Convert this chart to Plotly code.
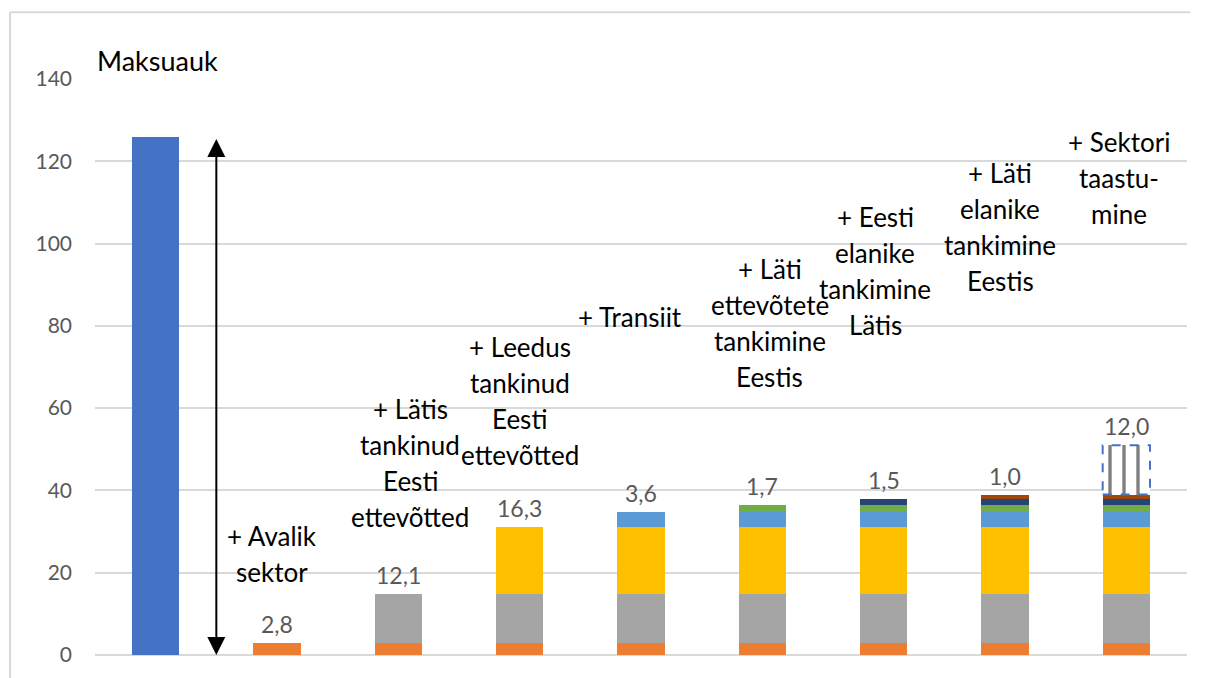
import plotly.graph_objects as go

# ---------------- data ----------------
categories = [
    "Maksuauk",
    "+ Avalik sektor",
    "+ Lätis tankinud Eesti ettevõtted",
    "+ Leedus tankinud Eesti ettevõtted",
    "+ Transiit",
    "+ Läti ettevõtete tankimine Eestis",
    "+ Eesti elanike tankimine Lätis",
    "+ Läti elanike tankimine Eestis",
    "+ Sektori taastumine",
]
category_lines = [
    [],
    ["+ Avalik", "sektor"],
    ["+ Lätis", "tankinud", "Eesti", "ettevõtted"],
    ["+ Leedus", "tankinud", "Eesti", "ettevõtted"],
    ["+ Transiit"],
    ["+ Läti", "ettevõtete", "tankimine", "Eestis"],
    ["+ Eesti", "elanike", "tankimine", "Lätis"],
    ["+ Läti", "elanike", "tankimine", "Eestis"],
    ["+ Sektori", "taastu-", "mine"],
]
tax_gap = 125.8
components = [2.8, 12.1, 16.3, 3.6, 1.7, 1.5, 1.0, 12.0]
component_colors = ["#ED7D31", "#A5A5A5", "#FFC000", "#5B9BD5",
                    "#70AD47", "#264478", "#9E480E", "#FFFFFF"]
y_ticks = [0, 20, 40, 60, 80, 100, 120, 140]
y_title = "Maksuauk"

# ---------------- layout constants ----------------
label_x = [None, 0.96, 2.10, 3.00, 3.91, 5.06, 5.93, 6.96, 7.94]
label_y = [None, 29.0, 59.8, 74.8, 82.1, 93.7, 106.5, 117.2, 124.7]
BAR_W = 0.39
FONT = "Lato"
LINE_PX = 36

xs = list(range(len(categories)))

fig = go.Figure()

# first bar: the tax gap
fig.add_trace(go.Bar(
    x=[xs[0]], y=[tax_gap], width=BAR_W,
    marker=dict(color="#4472C4", line=dict(width=0)),
    showlegend=False, hoverinfo="skip",
))

# stacked components: component i appears from column i+1 onwards
n = len(components)
for i, v in enumerate(components):
    cols = xs[i + 1:]
    vals = [v] * len(cols)
    marker = dict(color=component_colors[i], line=dict(width=0))
    if i == n - 1:
        marker = dict(color="#FFFFFF", line=dict(width=0),
                      pattern=dict(shape="|", fgcolor="#000000",
                                   bgcolor="#FFFFFF", size=14, solidity=0.24))
    fig.add_trace(go.Bar(x=cols, y=vals, width=BAR_W, marker=marker,
                         showlegend=False, hoverinfo="skip"))

annotations = []
shapes = []

# cumulative totals and value labels
cum = 0.0
for i, v in enumerate(components):
    base = cum
    cum += v
    annotations.append(dict(
        x=xs[i + 1], y=cum, xref="x", yref="y", text=f"{v:.1f}".replace(".", ","),
        showarrow=False, yanchor="bottom", yshift=3,
        font=dict(family=FONT, size=23, color="#595959"),
    ))
    if i == n - 1:
        shapes.append(dict(
            type="rect", xref="x", yref="y",
            x0=xs[i + 1] - BAR_W / 2, x1=xs[i + 1] + BAR_W / 2, y0=base, y1=cum,
            line=dict(color="#4472C4", width=2, dash="dash"),
            fillcolor="rgba(0,0,0,0)", layer="above",
        ))

# category text labels
for c, lines in enumerate(category_lines):
    for k, line in enumerate(lines):
        annotations.append(dict(
            x=label_x[c], y=label_y[c], xref="x", yref="y", text=line,
            showarrow=False, xanchor="center", yanchor="middle",
            yshift=-LINE_PX * k,
            font=dict(family=FONT, size=26, color="#000000"),
        ))

# double-headed arrow spanning the tax gap
annotations.append(dict(
    x=0.5, y=0, xref="x", yref="y", ax=0.5, ay=tax_gap, axref="x", ayref="y",
    text="", showarrow=True, arrowhead=2, startarrowhead=2, arrowside="end+start",
    arrowsize=1.8, startarrowsize=1.8, arrowwidth=2, arrowcolor="#000000",
    standoff=0, startstandoff=0,
))

# axis title at the top-left
annotations.append(dict(
    x=0, y=1, xref="paper", yref="paper", text=y_title, showarrow=False,
    xanchor="left", yanchor="bottom", yshift=0,
    font=dict(family=FONT, size=27, color="#000000"),
))

# outer chart frame (left and top edges)
shapes.append(dict(type="line", xref="paper", yref="paper",
                   x0=-0.0778, x1=-0.0778, y0=-0.1, y1=1.116,
                   line=dict(color="#D9D9D9", width=2)))
shapes.append(dict(type="line", xref="paper", yref="paper",
                   x0=-0.0778, x1=1.003, y0=1.116, y1=1.116,
                   line=dict(color="#D9D9D9", width=2)))

fig.update_layout(
    width=1197, height=670,
    margin=dict(l=87, r=18, t=71, b=21, pad=0),
    paper_bgcolor="white", plot_bgcolor="white",
    barmode="stack",
    showlegend=False,
    annotations=annotations,
    shapes=shapes,
    font=dict(family=FONT),
)
fig.update_xaxes(
    range=[-0.5, len(categories) - 0.5], showticklabels=False, showgrid=False,
    zeroline=False, showline=False, ticks="",
)
fig.update_yaxes(
    range=[0, 140], tickvals=y_ticks, ticktext=[str(t) for t in y_ticks],
    showgrid=True, gridcolor="#D9D9D9", gridwidth=1.5,
    zeroline=True, zerolinecolor="#D9D9D9", zerolinewidth=1.5,
    showline=False, ticks="", ticklabelstandoff=22,
    tickfont=dict(family=FONT, size=21, color="#595959"),
)

fig.write_html("out.html")
